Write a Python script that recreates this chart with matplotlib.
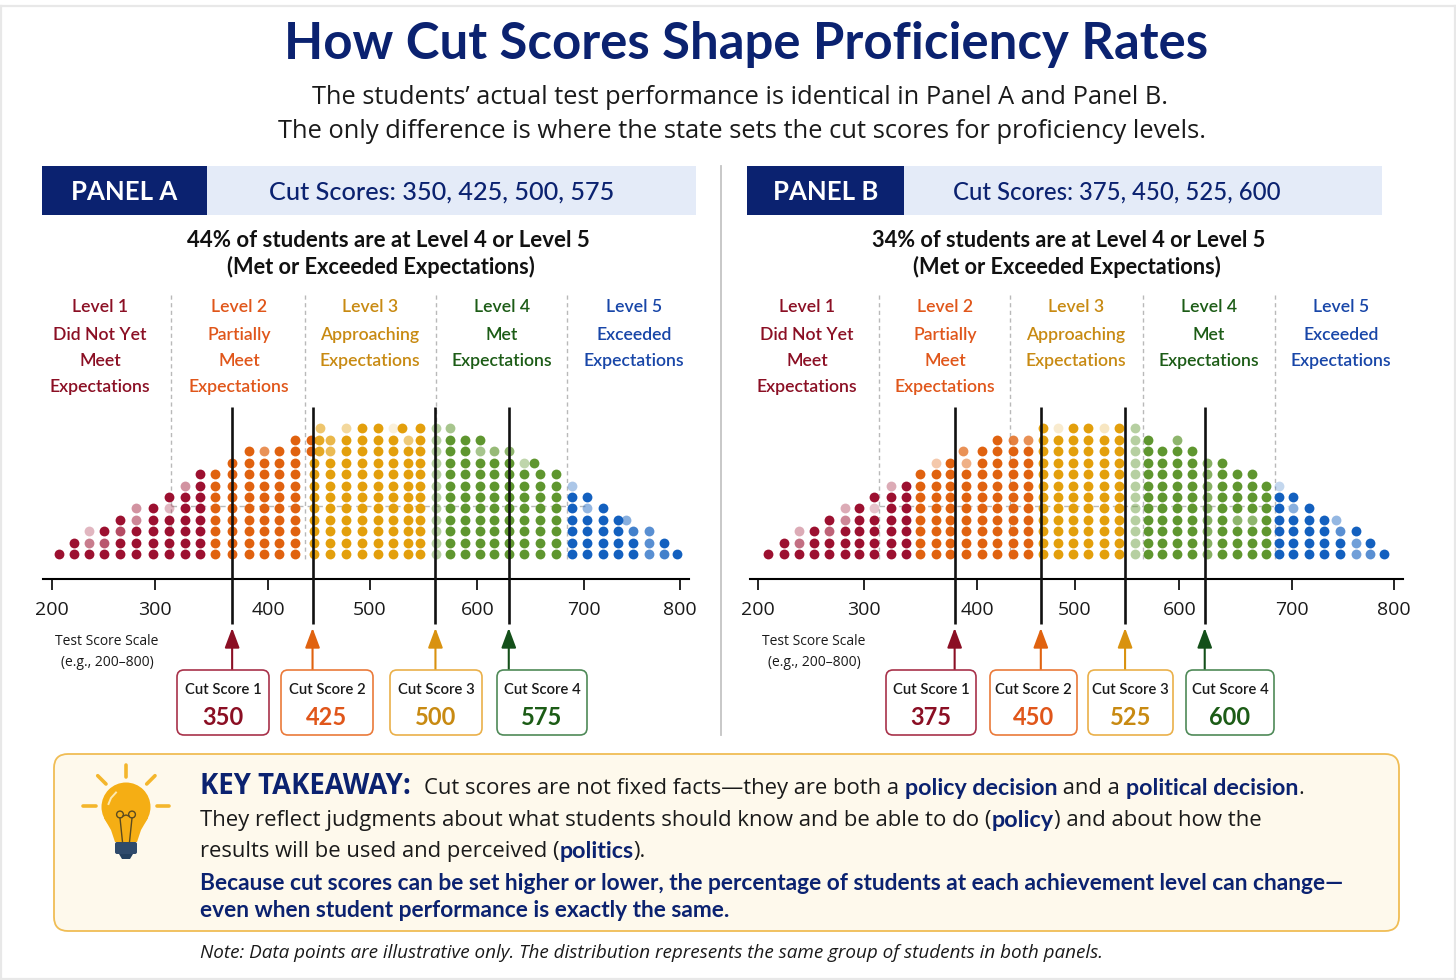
"""How cut scores shape proficiency rates: two dot-stack panels plus a takeaway box."""
import matplotlib

matplotlib.use("Agg")
import matplotlib.pyplot as plt
import numpy as np
from matplotlib.patches import Circle, FancyArrowPatch, FancyBboxPatch, Polygon, Rectangle

BODY = ["Open Sans", "DejaVu Sans"]
HEAD = ["Lato", "DejaVu Sans"]
plt.rcParams["font.family"] = BODY

NAVY = "#0b2270"
DOT_COLORS = ["#9c1030", "#e0620f", "#e39f0c", "#5f962f", "#1360bf"]
TEXT_COLORS = ["#8b0f24", "#e0561a", "#c88a12", "#1c5c16", "#1846a8"]
CUT_COLORS = ["#8b0f24", "#e0620f", "#d9920f", "#14501a"]
NUM_COLORS = ["#8b0f24", "#e0561a", "#c88a12", "#1c5c16"]
BOX_EDGES = ["#a8324a", "#ea7a3a", "#eab04a", "#4f8a58"]

tick_scores = [200, 300, 400, 500, 600, 700, 800]
level_titles = [
    ["Level 1", "Did Not Yet", "Meet", "Expectations"],
    ["Level 2", "Partially", "Meet", "Expectations"],
    ["Level 3", "Approaching", "Expectations"],
    ["Level 4", "Met", "Expectations"],
    ["Level 5", "Exceeded", "Expectations"],
]

# panel A
a_cut_labels = [350, 425, 500, 575]
a_cut_lines = [368, 443.5, 561, 629.5]
a_share = "44% of students are at Level 4 or Level 5"
a_level_sizes = [10, 6, 8, 9, 8]
a_scores = [206.8, 221, 236, 250.6, 265.5, 281.3, 298, 312.4, 326.3, 339.6,
            352.9, 368, 382.7, 396.2, 410.8, 425.9,
            444.6, 460.6, 476.4, 492.4, 507.7, 521.7, 535.4, 546.9,
            561.5, 574.5, 588.5, 602.5, 615.6, 629.4, 643.8, 658.8, 673.5,
            688.5, 703, 719.5, 735.7, 751.4, 768, 783.3, 796.5]
a_heights = [1, 2, 3, 3, 4, 5, 5, 6, 7, 8,
             8, 9, 10, 10, 10, 11,
             9, 11, 12, 12, 12, 12, 11, 12,
             12, 12, 11, 11, 10, 10, 9, 8, 8,
             7, 6, 5, 4, 3, 3, 2, 1]
a_pale = [(236, 2, .3), (236, 1, .55), (250.6, 1, .7), (265.5, 2, .75),
          (281.3, 4, .45), (281.3, 3, .5), (312.4, 4, .3), (326.3, 6, .45),
          (396.2, 9, .7), (460.6, 10, .75), (460.6, 9, .7), (476.4, 11, .4),
          (521.7, 11, .15), (535.4, 10, .55), (574.5, 11, .55),
          (602.5, 9, .55), (615.6, 9, .65), (629.4, 9, .7), (643.8, 8, .4),
          (688.5, 6, .35), (703, 4, .45), (751.4, 2, .8),
          (768, 0, .7), (768, 1, .7), (768, 2, .7), (783.3, 0, .8)]
a_pale_columns = [(561.5, .45)]
a_extra = [(442, 10, 1, 1), (442, 9, 1, 1), (449.6, 10, 2, .9), (449.6, 9, 2, .9),
           (451, 11, 2, .6), (529.5, 11, 2, 1), (652.9, 8, 3, 1), (744, 3, 4, .5)]

# panel B
b_cut_labels = [375, 450, 525, 600]
b_cut_lines = [380, 465, 548, 622.5]
b_share = "34% of students are at Level 4 or Level 5"
b_level_sizes = [10, 8, 6, 10, 8]
b_scores = [209.2, 223.9, 238.8, 252.7, 266.5, 282, 295.6, 309.1, 323.6, 336.8,
            349.7, 363.8, 376.2, 389.8, 404.5, 420.2, 436.6, 452.2,
            467, 482.3, 497.9, 512.9, 527.5, 542.1,
            557.8, 569.7, 583.7, 597.8, 611.2, 624.8, 637.8, 651, 664.3, 676.5,
            688.2, 701, 716, 731.3, 746.7, 762.3, 776.1, 790.1]
b_heights = [1, 2, 3, 3, 4, 5, 5, 6, 7, 7,
             8, 9, 9, 9, 10, 11, 11, 11,
             12, 12, 12, 12, 12, 12,
             12, 11, 10, 11, 10, 9, 9, 8, 8, 7,
             7, 6, 5, 4, 3, 3, 2, 1]
b_pale = [(238.8, 2, .35), (238.8, 1, .6), (266.5, 2, .65), (282, 4, .35),
          (282, 3, .5), (309.1, 4, .25), (323.6, 6, .35), (363.8, 8, .35),
          (389.8, 8, .5), (436.6, 10, .8), (452.2, 10, .7), (482.3, 11, .2),
          (527.5, 11, .25), (597.8, 10, .7), (651, 3, .7), (664.3, 3, .7),
          (688.2, 6, .25), (701, 4, .5), (746.7, 2, .7),
          (762.3, 0, .6), (762.3, 1, .6), (776.1, 0, .7)]
b_pale_columns = [(557.8, .45), (624.8, .75)]
b_extra = [(387.1, 9, 1, .7), (742.8, 3, 4, .45)]

W, H = 1456, 980
fig = plt.figure(figsize=(W / 100, H / 100), dpi=100, facecolor="white")
ax = fig.add_axes([0, 0, 1, 1])
ax.set_xlim(0, W)
ax.set_ylim(H, 0)
ax.axis("off")
renderer = fig.canvas.get_renderer()

ROW_Y0, ROW_STEP = 554.3, 11.45


def row_of(y):
    return (ROW_Y0 - y) / ROW_STEP


def rbox(x0, y0, x1, y1, fc, ec, lw=1.2, r=7, z=2):
    ax.add_patch(FancyBboxPatch((x0, y0), x1 - x0, y1 - y0,
                                boxstyle=f"round,pad=0,rounding_size={r}",
                                fc=fc, ec=ec, lw=lw, zorder=z))


def run(x, y, parts, size):
    # lay mixed weight text out left to right; bold uses the narrower face
    for txt, bold in parts:
        t = ax.text(x, y, txt, fontsize=size * 1.06 if bold else size, va="center", ha="left",
                    color=NAVY if bold else "#1a1a1a", family=HEAD if bold else BODY,
                    fontweight="bold" if bold else "normal", zorder=5)
        x = t.get_window_extent(renderer).x1


def draw_panel(name, px_ticks, span, header, bar_end, cuts_txt, title_x, cut_size,
               share, share_x, share2_x, share_size,
               scores, heights, level_sizes, pale, pale_columns, extra,
               cut_lines, cut_labels, level_x, dash_x, dash_end, box_x, scale_x):
    # header band
    ax.add_patch(Rectangle((header[1], 166), bar_end - header[1], 49, fc="#e4ebf8", ec="none"))
    ax.add_patch(Rectangle((header[0], 166), header[1] - header[0], 49, fc=NAVY, ec="none"))
    ax.text((header[0] + header[1]) / 2, 191.5, name, color="white", fontsize=18.5,
            fontweight="bold", ha="center", va="center", family=HEAD)
    ax.text(title_x, 192, cuts_txt, color=NAVY, fontsize=cut_size, fontweight="medium",
            ha="center", va="center", family=HEAD)
    ax.text(share_x, 240, share, fontsize=share_size, fontweight="bold", ha="center",
            va="center", color="#111111", family=HEAD)
    ax.text(share2_x, 266.5, "(Met or Exceeded Expectations)", fontsize=15.7,
            fontweight="bold", ha="center", va="center", color="#111111", family=HEAD)

    for cx, lines, col in zip(level_x, level_titles, TEXT_COLORS):
        ys = [307, 335, 361, 387]
        for ln, ly in zip(lines, ys):
            ax.text(cx, ly, ln, color=col, fontsize=12.7, fontweight="semibold",
                    ha="center", va="center", family=HEAD)

    for dx in dash_x:
        ax.plot([dx, dx], [295, 560], color="#b9b9b9", lw=1, ls=(0, (3, 2.5)), zorder=1)
    ax.plot([dash_x[0], dash_end], [505.7, 505.7], color="#b9b9b9", lw=1,
            ls=(0, (4, 3)), zorder=1)

    # dots live in their own axes, on the picture's uneven score scale
    xp = [px_ticks[0] - 105] + list(px_ticks) + [px_ticks[-1] + 105]
    xs = [100] + tick_scores + [900]
    sub = fig.add_axes([span[0] / W, 1 - 579.3 / H, (span[1] - span[0]) / W, 179.3 / H])
    sub.patch.set_alpha(0)
    sub.set_xscale("function", functions=(lambda v: np.interp(v, xs, xp),
                                          lambda v: np.interp(v, xp, xs)))
    sub.set_xlim(np.interp(span[0], xp, xs), np.interp(span[1], xp, xs))
    sub.set_ylim(row_of(579.3), row_of(400))
    for s in ("left", "right", "top"):
        sub.spines[s].set_visible(False)
    sub.spines["bottom"].set_linewidth(1.5)
    sub.set_yticks([])
    sub.set_xticks(tick_scores)
    sub.set_xticklabels([str(t) for t in tick_scores])
    sub.tick_params(axis="x", length=8, width=1.2, pad=7.6, labelsize=14, labelcolor="#1a1a1a")
    sub.minorticks_off()

    levels = np.repeat(np.arange(5), level_sizes)
    tint = {(s, r): a for s, r, a in pale}
    tint_col = dict(pale_columns)
    for score, h, lv in zip(scores, heights, levels):
        for r in range(h):
            a = tint.get((score, r), tint_col.get(score, 1))
            sub.scatter(score, r, s=50, color=DOT_COLORS[lv], alpha=a, linewidths=0, zorder=3)
    for score, r, lv, a in extra:
        sub.scatter(score, r, s=50, color=DOT_COLORS[lv], alpha=a, linewidths=0, zorder=3)

    sub.vlines(cut_lines, row_of(624), row_of(406.7), color="#111111", lw=1.9,
               zorder=4, clip_on=False)

    # arrows and labelled cut-score boxes, placed under the cut lines
    pxs = np.interp(cut_lines, xs, xp)
    for i, (px, lab) in enumerate(zip(pxs, cut_labels)):
        ax.add_patch(FancyArrowPatch((px, 670), (px, 628),
                                     arrowstyle="-|>,head_length=0.8,head_width=0.3",
                                     mutation_scale=15, lw=1.5, color=CUT_COLORS[i],
                                     shrinkA=0, shrinkB=0))
        x0, x1 = box_x[i]
        rbox(x0, 670, x1, 735, "white", BOX_EDGES[i])
        ax.text((x0 + x1) / 2, 689.5, f"Cut Score {i + 1}", fontsize=10.7, fontweight="semibold",
                ha="center", va="center", color="#1a1a1a", zorder=5, family=HEAD)
        ax.text((x0 + x1) / 2, 717.5, str(lab), fontsize=17, fontweight="bold",
                ha="center", va="center", color=NUM_COLORS[i], zorder=5, family=HEAD)

    ax.text(scale_x, 641, "Test Score Scale", fontsize=10, ha="center", va="center", color="#1a1a1a")
    ax.text(scale_x, 662, "(e.g., 200–800)", fontsize=10, ha="center", va="center", color="#1a1a1a")


# screenshot frame
for xs_, ys_ in [([0, W], [6, 6]), ([1, 1], [6, H]), ([W - 1, W - 1], [6, H]), ([0, W], [H - 1.5, H - 1.5])]:
    ax.plot(xs_, ys_, color="#e8e8e8", lw=1.6, zorder=0)

# title block
ax.text(746, 44, "How Cut Scores Shape Proficiency Rates", color=NAVY, fontsize=36.6,
        fontweight="bold", ha="center", va="center", family=HEAD)
ax.text(740, 97, "The students’ actual test performance is identical in Panel A and Panel B.",
        fontsize=18.3, ha="center", va="center", color="#1a1a1a")
ax.text(742, 131, "The only difference is where the state sets the cut scores for proficiency levels.",
        fontsize=18.35, ha="center", va="center", color="#1a1a1a")

ax.plot([721, 721], [166, 735], color="#c4c4c4", lw=1.3)

draw_panel("PANEL A", [52, 155.3, 268.3, 370, 477.3, 584, 680], (43, 689), (42, 207), 696,
           "Cut Scores: 350, 425, 500, 575", 442, 18.2, a_share, 388, 380.5, 16.05,
           a_scores, a_heights, a_level_sizes, a_pale, a_pale_columns, a_extra,
           a_cut_lines, a_cut_labels, [100, 239, 370, 502, 634],
           [171, 305, 436, 567], 587,
           [(177, 269), (281, 373), (390, 482), (497, 587)], 107)
draw_panel("PANEL B", [758.3, 864, 977.3, 1075, 1179.3, 1292.3, 1394.3], (750, 1403), (747, 904), 1382,
           "Cut Scores: 375, 450, 525, 600", 1117, 17.2, b_share, 1069, 1066.5, 15.7,
           b_scores, b_heights, b_level_sizes, b_pale, b_pale_columns, b_extra,
           b_cut_lines, b_cut_labels, [807, 945, 1076, 1209, 1341],
           [878.5, 1010, 1142.7, 1274.7], 1288,
           [(886, 976), (990, 1077), (1088, 1173), (1186, 1274)], 814)

# takeaway box
rbox(54, 754, 1399, 931, "#fef9ec", "#f0bd55", lw=1.3, r=14)

AMBER = "#f5ae14"
RAY = "#f4b62c"
FILAMENT = "#5a4a20"
for p, q in [((126, 765), (126, 777)), ((97.7, 775.7), (106, 784)), ((155, 775.7), (146.7, 784)),
             ((83, 805.7), (95.7, 805.7)), ((156.7, 805.7), (168.7, 805.7))]:
    ax.plot([p[0], q[0]], [p[1], q[1]], color=RAY, lw=2.6, zorder=3, solid_capstyle="round")
ax.add_patch(Circle((126, 807), 24.5, fc=AMBER, ec="none", zorder=3))
ax.add_patch(Polygon([(104, 818), (148, 818), (141, 830), (137, 842), (115, 842), (111, 830)],
                     fc=AMBER, ec="none", zorder=3))
ax.add_patch(FancyBboxPatch((115, 842), 22, 12, boxstyle="round,pad=0,rounding_size=2",
                            fc="#2f4a6b", ec="none", zorder=4))
ax.add_patch(Polygon([(119, 854), (133, 854), (130, 859), (122, 859)], fc="#24405f", ec="none", zorder=4))
ax.plot([120, 122.5], [818, 842], color=FILAMENT, lw=1, zorder=4)
ax.plot([132, 129.5], [818, 842], color=FILAMENT, lw=1, zorder=4)
ax.plot([123, 126, 129], [816, 815, 816], color=FILAMENT, lw=1, zorder=4)
ax.add_patch(Circle((120, 814.5), 3.4, fc="none", ec=FILAMENT, lw=1, zorder=4))
ax.add_patch(Circle((132, 814.5), 3.4, fc="none", ec=FILAMENT, lw=1, zorder=4))
ax.plot([108.5, 111, 116], [804, 798, 792.5], color="#fde9b0", lw=1.4, zorder=4)

ax.text(200, 786, "KEY TAKEAWAY:", color=NAVY, fontsize=19.8, fontweight="bold", va="center", zorder=5)
run(424, 788, [("Cut scores are not fixed facts—they are both a ", False), ("policy decision", True),
               (" and a ", False), ("political decision", True), (".", False)], 15.8)
run(200, 820, [("They reflect judgments about what students should know and be able to do (", False),
               ("policy", True), (") and about how the", False)], 15.9)
run(200, 851, [("results will be used and perceived (", False), ("politics", True), (").", False)], 15.8)
run(200, 883.5, [("Because cut scores can be set higher or lower, the percentage of students at each achievement level can change—", True)], 15.45)
run(200, 910.5, [("even when student performance is exactly the same.", True)], 15.45)

ax.text(200, 953, "Note: Data points are illustrative only. The distribution represents the same group of students in both panels.",
        fontsize=13.6, fontstyle="italic", va="center", color="#1a1a1a")

fig.savefig("out.png", dpi=100)
